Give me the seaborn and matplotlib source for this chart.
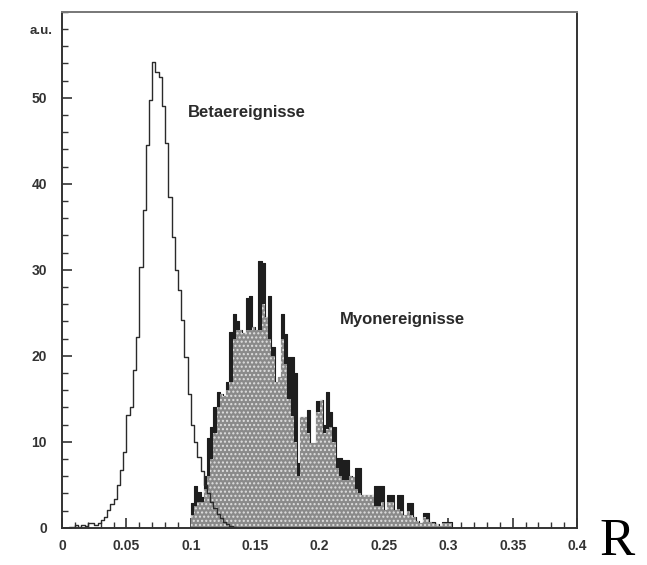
import matplotlib
matplotlib.use("Agg")
import matplotlib.pyplot as plt
import numpy as np
import pandas as pd
import seaborn as sns
from matplotlib.ticker import MultipleLocator

# Werte, Binbreite 0.0025
bin_width = 0.0025

beta_start = 0.0
beta_counts = [
    0, 0, 0.1, 0.1, 0.3, 0.1, 0.3, 0.2, 0.5, 0.6,
    0.3, 0.6, 0.9, 1.3, 2.1, 2.8, 3.3, 5.0, 6.7, 8.8,
    13.1, 14.0, 18.4, 22.2, 30.3, 37.0, 44.5, 49.8, 54.2, 53.0,
    52.4, 49.0, 44.8, 38.5, 33.8, 30.0, 27.7, 24.2, 19.8, 15.5,
    12.0, 10.0, 8.2, 6.6, 5.0, 4.0, 3.0, 2.3, 1.6, 1.1,
    0.7, 0.4, 0.2, 0.1, 0,
]

muon_start = 0.1
# obere Kontur (dunkle Spitzen)
muon_dark = [
    2.9, 4.8, 4.2, 3.6, 6.0, 10.4, 11.7, 14.0, 15.8, 15.5,
    15.3, 17.0, 22.8, 24.8, 24.0, 23.0, 22.7, 26.7, 26.9, 23.4,
    23.0, 31.0, 30.8, 24.5, 26.9, 21.0, 16.9, 17.5, 24.8, 22.5,
    19.9, 19.9, 18.0, 7.5, 12.9, 12.9, 13.7, 9.9, 9.9, 14.7,
    14.9, 12.0, 15.8, 13.5, 11.7, 8.1, 8.1, 7.9, 7.9, 6.0,
    5.9, 7.0, 7.0, 3.8, 3.8, 3.8, 3.8, 4.8, 4.8, 4.8,
    2.1, 3.8, 3.8, 2.1, 3.8, 3.8, 1.5, 2.9, 2.9, 1.2,
    0.8, 0.6, 1.7, 1.7, 0.7, 0.7, 0.4, 0.2, 0.7, 0.7, 0.7,
]
# gepunkteter (heller) Anteil
muon_light = [
    1.5, 2.5, 3.0, 3.0, 4.5, 6.0, 8.0, 11.0, 14.0, 15.5,
    15.3, 16.0, 17.0, 22.0, 23.0, 23.0, 22.7, 23.0, 23.0, 23.4,
    23.0, 23.0, 26.0, 24.5, 22.0, 20.0, 16.9, 17.5, 22.0, 19.0,
    15.0, 13.0, 10.0, 6.0, 12.9, 12.9, 11.0, 9.9, 9.9, 13.5,
    14.9, 11.0, 11.5, 11.7, 10.0, 7.0, 6.0, 5.5, 5.5, 6.0,
    5.9, 4.5, 4.0, 3.8, 3.8, 3.8, 3.8, 2.5, 2.5, 3.0,
    2.1, 3.0, 3.0, 2.1, 2.2, 2.0, 1.5, 2.0, 1.5, 1.2,
    0.8, 0.6, 1.2, 1.0, 0.7, 0.5, 0.4, 0.2, 0.5, 0.5, 0.5,
]

x_ticks = [0, 0.05, 0.1, 0.15, 0.2, 0.25, 0.3, 0.35, 0.4]
x_tick_labels = ["0", "0.05", "0.1", "0.15", "0.2", "0.25", "0.3", "0.35", "0.4"]
y_ticks = [0, 10, 20, 30, 40, 50]


def hist_frame(start, counts):
    edges = start + bin_width * np.arange(len(counts) + 1)
    centers = edges[:-1] + bin_width / 2
    df = pd.DataFrame({"x": centers, "w": counts})
    return df, list(edges)


sns.set_style("white")
plt.rcParams["font.family"] = ["Liberation Sans", "DejaVu Sans"]
plt.rcParams["hatch.linewidth"] = 1.0

fig = plt.figure(figsize=(6.47, 5.65), dpi=100)
ax = fig.add_axes([0.096, 0.066, 0.796, 0.913])

dark_df, m_edges = hist_frame(muon_start, muon_dark)
light_df, _ = hist_frame(muon_start, muon_light)
beta_df, b_edges = hist_frame(beta_start, beta_counts)

sns.histplot(data=dark_df, x="x", weights="w", bins=m_edges, element="step",
             fill=True, color="#1e1e1e", alpha=1, linewidth=0.8, ax=ax)
sns.histplot(data=light_df, x="x", weights="w", bins=m_edges, element="step",
             fill=True, color="#8a8a8a", alpha=1, linewidth=0, ax=ax)
light = ax.collections[-1]
light.set_hatch("....")
light.set_edgecolor("#e0e0e0")

sns.histplot(data=beta_df, x="x", weights="w", bins=b_edges, element="step",
             fill=False, color="#2a2a2a", linewidth=1.0, ax=ax)

ax.set_xlim(0, 0.4)
ax.set_ylim(0, 60)
ax.set_xlabel("")
ax.set_ylabel("")

ax.set_xticks(x_ticks)
ax.set_xticklabels(x_tick_labels)
ax.set_yticks(y_ticks)
ax.xaxis.set_minor_locator(MultipleLocator(0.01))
ax.yaxis.set_minor_locator(MultipleLocator(2))
ax.tick_params(which="both", direction="in", colors="#333333", labelsize=10,
               bottom=True, left=True, top=False, right=False)
ax.tick_params(which="major", length=7, width=1.2)
ax.tick_params(which="minor", length=4, width=1.0)
ax.tick_params(axis="x", pad=8)
ax.tick_params(axis="y", pad=11)
for lbl in ax.get_xticklabels() + ax.get_yticklabels():
    lbl.set_fontweight("bold")

for side in ["left", "bottom", "right", "top"]:
    ax.spines[side].set_color("#333333")
    ax.spines[side].set_linewidth(1.4)
ax.spines["top"].set_color("#777777")

ax.text(-0.018, 57.8, "a.u.", transform=ax.get_yaxis_transform(),
        ha="right", va="center", fontsize=9.5, fontweight="bold",
        color="#333333")
ax.text(0.098, 48.3, "Betaereignisse", fontsize=12, fontweight="bold",
        color="#2a2a2a", va="center")
ax.text(0.216, 24.2, "Myonereignisse", fontsize=12, fontweight="bold",
        color="#2a2a2a", va="center")

fig.text(0.926, 0.018, "R", fontsize=38, family="Liberation Serif",
         color="black")

fig.savefig("out.png", dpi=100)
